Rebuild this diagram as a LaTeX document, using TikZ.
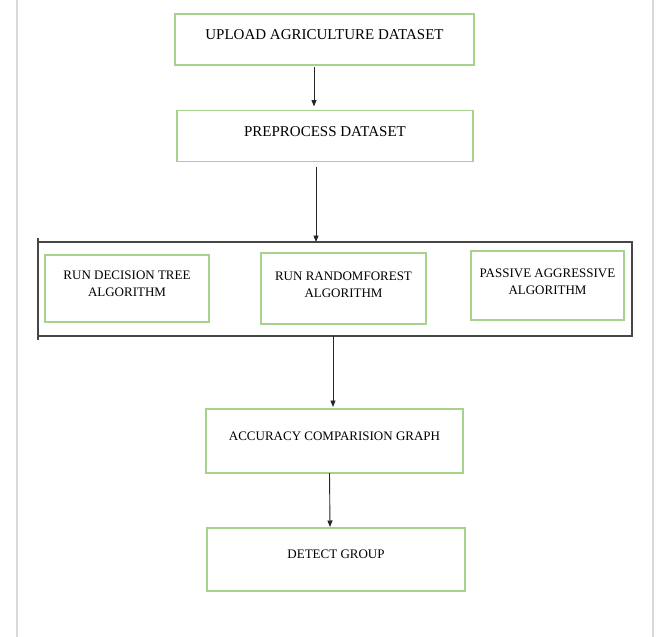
\documentclass[tikz,border=0pt]{standalone}
\usepackage{fontspec}
\setmainfont{Liberation Serif}
\usetikzlibrary{arrows.meta}
\definecolor{boxgreen}{RGB}{169,209,142}
\definecolor{sidegray}{RGB}{217,217,217}
\definecolor{grpgray}{RGB}{70,70,70}
\begin{document}
\begin{tikzpicture}[x=1pt,y=-1pt,
  greenbox/.style={draw=boxgreen, line width=1.3pt, inner sep=0pt, outer sep=0pt, align=center},
  bigtxt/.style={font=\fontsize{15}{17}\selectfont},
  smalltxt/.style={font=\fontsize{13}{17}\selectfont},
  arr/.style={draw=black!85, line width=0.9pt, -{Triangle[length=6.5pt,width=5pt]}},
  sideline/.style={draw=sidegray, line width=2.5pt}]
\useasboundingbox (0,0) rectangle (656,637);
\fill[white] (0,0) rectangle (656,637);
% side gray lines
\coordinate (lt) at (17,0); \coordinate (lb) at (17,637);
\coordinate (rt) at (653,0); \coordinate (rb) at (653,637);
\draw[sideline] (lt) -- (lb);
\draw[sideline] (rt) -- (rb);
% top boxes
\node[greenbox, bigtxt, minimum width=299pt, minimum height=51pt, text depth=10pt] (b1) at (324.5,39.5) {UPLOAD AGRICULTURE DATASET};
\node[greenbox, bigtxt, minimum width=296pt, minimum height=51pt, text depth=9.4pt] (b2) at (325,136) {PREPROCESS DATASET};
% group
\node[draw=grpgray, line width=1.3pt, inner sep=0pt, outer sep=0pt, minimum width=594pt, minimum height=94pt] (grp) at (335,289) {};
\draw[draw=grpgray, line width=1.3pt] ([yshift=4pt]grp.north west) -- ([yshift=-4pt]grp.south west);
\node[greenbox, smalltxt, minimum width=164pt, minimum height=67pt, text depth=10.4pt] (ba) at (127,288.5) {RUN DECISION TREE\\ALGORITHM};
\node[greenbox, smalltxt, minimum width=165pt, minimum height=71pt, text depth=8pt] (bb) at (343.5,288.5) {RUN RANDOMFOREST\\ALGORITHM};
\node[greenbox, smalltxt, minimum width=153pt, minimum height=69pt, text depth=8pt] (bc) at (547.5,285.5) {PASSIVE AGGRESSIVE\\ALGORITHM};
% lower boxes
\node[greenbox, smalltxt, minimum width=257pt, minimum height=64pt, text depth=9.4pt] (bd) at (334.5,441) {ACCURACY COMPARISION GRAPH};
\node[greenbox, smalltxt, minimum width=258pt, minimum height=63pt, text depth=10.6pt] (be) at (336,559.5) {DETECT GROUP};
% arrows
\draw[arr] ([xshift=-10.5pt,yshift=-2pt]b1.south) -- ([xshift=-10.5pt,yshift=4pt]b1.south |- b2.north);
\draw[arr] ([xshift=-9pt,yshift=-5pt]b2.south) -- ([xshift=-9pt]b2.south |- grp.north);
\draw[arr] ([xshift=-2pt]grp.south) -- ([xshift=-2pt,yshift=2pt]grp.south |- bd.north);
\draw[arr] ([xshift=-5pt]bd.south) -- ([xshift=-6pt,yshift=1pt]be.north);
\end{tikzpicture}
\end{document}
